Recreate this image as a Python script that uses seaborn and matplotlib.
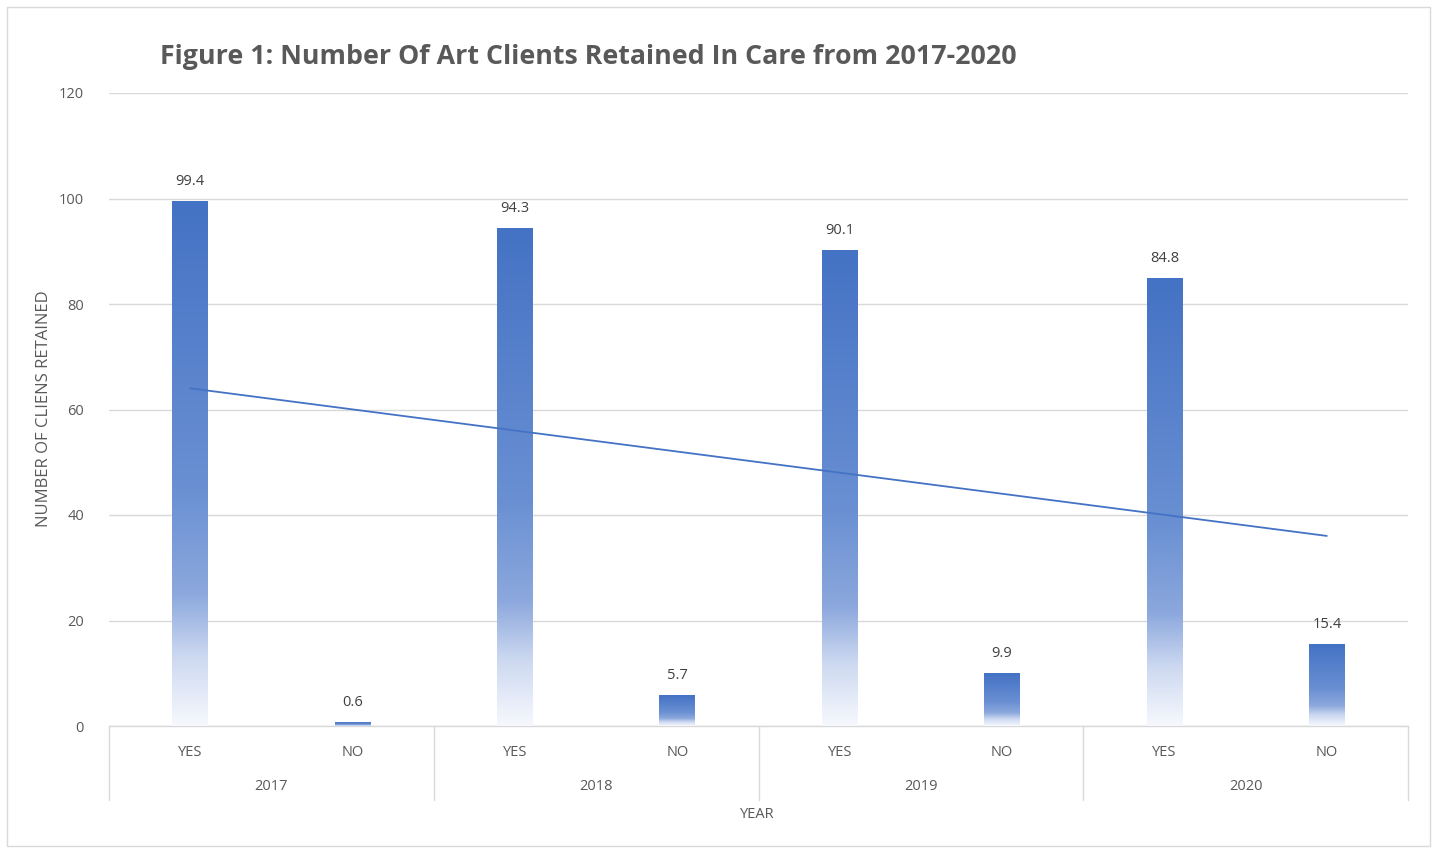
import numpy as np
import pandas as pd
import matplotlib
matplotlib.use("Agg")
import matplotlib.pyplot as plt
import matplotlib.transforms as mtransforms
from matplotlib.colors import LinearSegmentedColormap
from matplotlib.patches import Rectangle
import seaborn as sns

# ---- data ----
years = ["2017", "2018", "2019", "2020"]
answers = ["YES", "NO"]
values = [99.4, 0.6, 94.3, 5.7, 90.1, 9.9, 84.8, 15.4]
y_ticks = [0, 20, 40, 60, 80, 100, 120]
title = "Figure 1: Number Of Art Clients Retained In Care from 2017-2020"
y_label = "NUMBER OF CLIENS RETAINED"
x_label = "YEAR"

labels = [a for y in years for a in answers]
keys = [f"{y}-{a}" for y in years for a in answers]
df = pd.DataFrame({"key": keys, "label": labels, "value": values})

sns.set_theme(style="white")
plt.rcParams["font.family"] = ["Open Sans", "DejaVu Sans"]

W, H = 1434, 848
fig = plt.figure(figsize=(W / 100, H / 100), dpi=100)
ax = fig.add_axes([109 / W, 1 - 726 / H, (1408 - 109) / W, (726 - 93) / H])

sns.barplot(data=df, x="key", y="value", ax=ax, color="#4472C4", width=0.22,
            order=keys, errorbar=None, zorder=3)

ax.set_ylim(0, 120)
ax.set_xlim(-0.5, len(keys) - 0.5)
ax.set_yticks(y_ticks)
ax.set_yticklabels([str(t) for t in y_ticks], color="#595959", fontsize=10.5)
ax.tick_params(axis="y", length=0, pad=18)
ax.yaxis.grid(True, color="#D9D9D9", linewidth=1)
ax.set_axisbelow(True)
for s in ["top", "right", "left"]:
    ax.spines[s].set_visible(False)
ax.spines["bottom"].set_color("#D9D9D9")
ax.spines["bottom"].set_linewidth(1)

# gradient fill for bars (solid blue at top, fading to white at the base)
cmap = LinearSegmentedColormap.from_list(
    "grad",
    [(0.0, (68/255, 114/255, 196/255)),
     (0.55, (106/255, 144/255, 211/255)),
     (0.75, (140/255, 168/255, 221/255)),
     (0.87, (205/255, 217/255, 241/255)),
     (1.0, (246/255, 248/255, 253/255))])
grad = np.linspace(0, 1, 256).reshape(-1, 1)
for p in ax.patches:
    x0, w, h = p.get_x(), p.get_width(), p.get_height()
    p.set_facecolor("none")
    p.set_edgecolor("none")
    ax.imshow(grad, cmap=cmap, extent=[x0, x0 + w, 0, h], aspect="auto",
              origin="upper", zorder=3, interpolation="bilinear")
    ax.text(x0 + w / 2, h + 2.4, f"{h:g}", ha="center", va="bottom",
            fontsize=10.5, color="#404040", zorder=5)
ax.set_xlim(-0.5, len(keys) - 0.5)
ax.set_ylim(0, 120)

# linear trendline
xpos = np.arange(len(values))
sns.regplot(x=xpos, y=np.array(values), ax=ax, scatter=False, ci=None,
            truncate=True, line_kws=dict(color="#4472C4", linewidth=1.3, zorder=4))

# multi-level category axis
ax.set_xticks(xpos)
ax.set_xticklabels(labels, color="#595959", fontsize=10.5)
ax.tick_params(axis="x", length=0, pad=14)
ax.set_xlabel("")
ax.set_ylabel("")

ax_h = 726 - 93
trans = mtransforms.blended_transform_factory(ax.transData, ax.transAxes)
for i, yr in enumerate(years):
    ax.text(2 * i + 0.5, -60 / ax_h, yr, transform=trans, ha="center", va="center",
            fontsize=10.5, color="#595959")
for b in range(len(years) + 1):
    xb = 2 * b - 0.5
    ax.plot([xb, xb], [0, -74 / ax_h], transform=trans, color="#D9D9D9",
            linewidth=1, clip_on=False)

fig.text((107 + 1408) / 2 / W, 1 - 814 / H, x_label, ha="center", va="center",
         fontsize=10.5, color="#595959")
fig.text(44 / W, 1 - 409 / H, y_label, ha="center", va="center", rotation=90,
         fontsize=12, color="#595959")
fig.text(160 / W, 1 - 57 / H, title, ha="left", va="center", fontsize=19.3,
         fontweight="bold", color="#595959")

# outer chart border
fig.patches.append(Rectangle((7 / W, 2 / H), (1430 - 7) / W, (841 - 2) / H,
                             transform=fig.transFigure, fill=False,
                             edgecolor="#D9D9D9", linewidth=1))

fig.savefig("out.png", dpi=100)
